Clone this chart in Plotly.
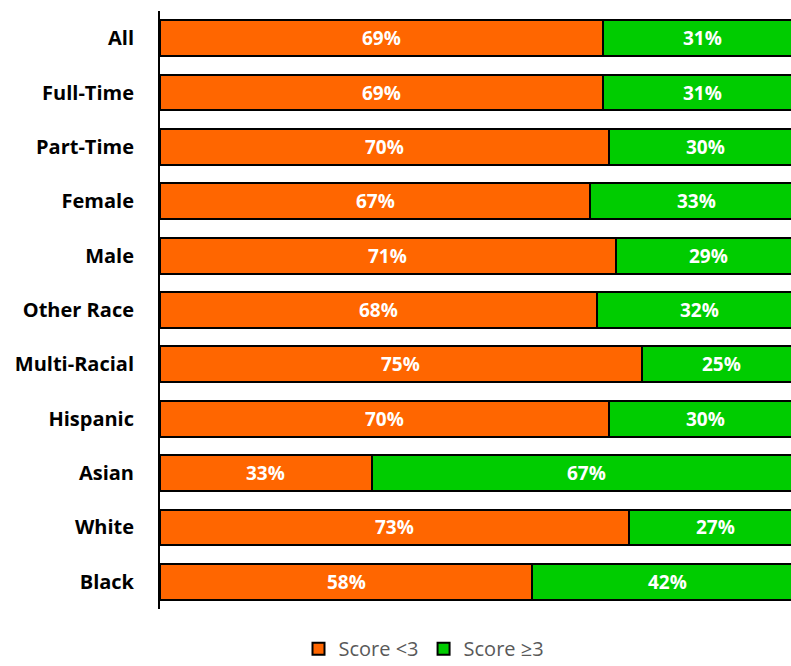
import plotly.graph_objects as go

# Share of respondents by group, split by score band
groups = ["All", "Full-Time", "Part-Time", "Female", "Male", "Other Race",
          "Multi-Racial", "Hispanic", "Asian", "White", "Black"]
below3 = [69, 69, 70, 67, 71, 68, 75, 70, 33, 73, 58]
atleast3 = [31, 31, 30, 33, 29, 32, 25, 30, 67, 27, 42]

orange = "#FF6600"
green = "#00CC00"
font_family = "Open Sans, Lato, sans-serif"

fig = go.Figure()
fig.add_trace(go.Bar(
    y=groups, x=[v / 100 for v in below3], orientation="h", name="Score <3",
    marker=dict(color=orange, line=dict(color="black", width=2)),
))
fig.add_trace(go.Bar(
    y=groups, x=[v / 100 for v in atleast3], orientation="h", name="Score ≥3",
    marker=dict(color=green, line=dict(color="black", width=2)),
))

# Percent labels centred on each segment
for g, a, b in zip(groups, below3, atleast3):
    fig.add_annotation(x=a / 200, y=g, text=f"{a}%", showarrow=False,
                       font=dict(color="white", size=19, family=font_family, weight="bold"))
    fig.add_annotation(x=(a + b / 2) / 100, y=g, text=f"{b}%", showarrow=False,
                       font=dict(color="white", size=19, family=font_family, weight="bold"))

fig.update_layout(
    width=791, height=666,
    margin=dict(l=160, r=0, t=11, b=57),
    barmode="stack", bargap=0.34,
    plot_bgcolor="white", paper_bgcolor="white",
    showlegend=True,
    legend=dict(orientation="h", xref="container", yref="container",
                x=424 / 791, y=0.026, xanchor="center", yanchor="middle",
                font=dict(size=20, color="#595959", family=font_family),
                itemwidth=30, traceorder="normal"),
    xaxis=dict(range=[0, 631 / 642], showgrid=False, zeroline=False,
               showticklabels=False, showline=False, fixedrange=True),
    yaxis=dict(categoryorder="array", categoryarray=groups, autorange="reversed",
               showline=True, linecolor="black", linewidth=2, showgrid=False,
               ticks="", ticklabelstandoff=20,
               tickfont=dict(size=20, color="black", family=font_family, weight="bold")),
)

fig.write_html("out.html")
